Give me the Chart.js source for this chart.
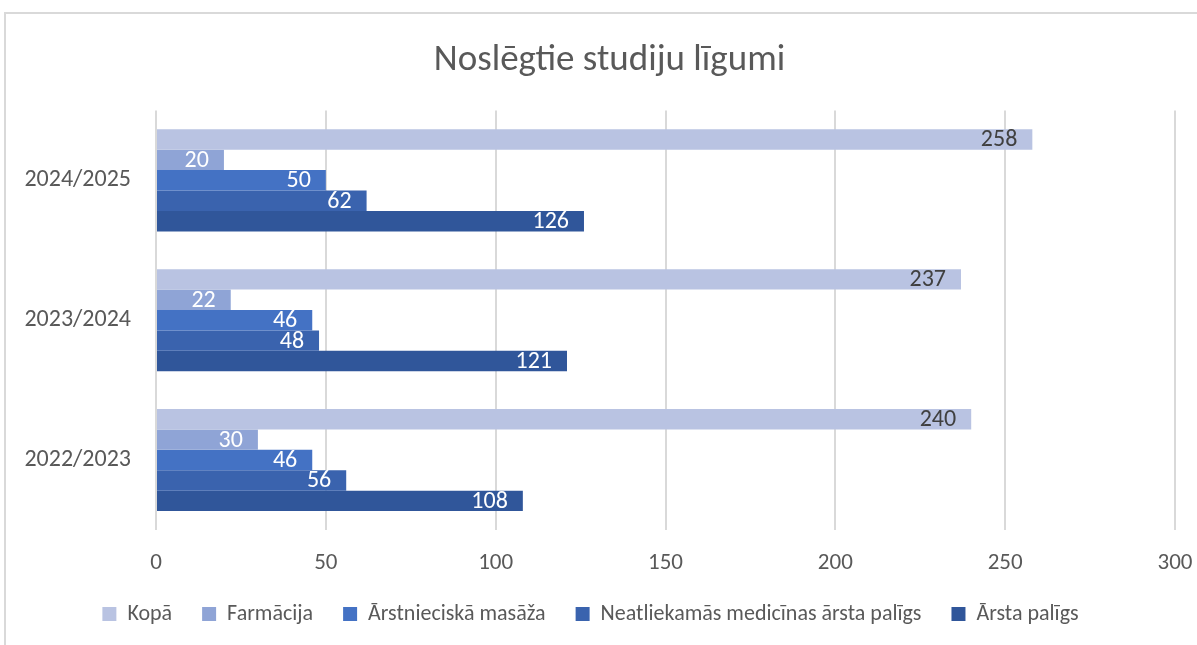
<!DOCTYPE html>
<html>
<head>
<meta charset="utf-8">
<script src="https://cdn.jsdelivr.net/npm/chart.js@4"></script>
<style>
  html, body { margin: 0; padding: 0; background: #fff; overflow: hidden; }
  #wrap {
    position: absolute; left: 4px; top: 12px;
    width: 1200px; height: 640px;
    border-left: 2px solid #d9d9d9; border-top: 2px solid #d9d9d9;
  }
</style>
</head>
<body>
<div id="wrap"><canvas id="studijuCanvas" width="1191" height="631"></canvas></div>
<script>
const years = ["2024/2025", "2023/2024", "2022/2023"];
const seriesNames = ["Kopā", "Farmācija", "Ārstnieciskā masāža", "Neatliekamās medicīnas ārsta palīgs", "Ārsta palīgs"];
const kopa = [258, 237, 240];
const farmacija = [20, 22, 30];
const masaza = [50, 46, 46];
const neatliekamas = [62, 48, 56];
const arstaPaligs = [126, 121, 108];
const xTicks = [0, 50, 100, 150, 200, 250, 300];

const seriesColors = ['#b9c3e2', '#8fa4d6', '#4472c4', '#3a63ae', '#30569a'];
const labelColors = ['#404040', '#fff', '#fff', '#fff', '#fff'];
const fontFamily = "Carlito, Calibri, Lato, 'Open Sans', sans-serif";

// draws the value at the inner end of each bar (no datalabels plugin available offline)
const valueLabels = {
    id: 'valueLabels',
    afterLayout(chart) {
        // the original chart was wider than the crop, so its title sits a bit right of centre
        if (chart.titleBlock) chart.titleBlock.left += 38;
        // x axis box is squeezed to keep the legend low; let its labels overflow the clip
        chart.scales.x.bottom += 25;
    },
    afterDatasetsDraw(chart) {
        const ctx = chart.ctx;
        ctx.save();
        ctx.font = "24px " + fontFamily;
        ctx.textAlign = 'right';
        ctx.textBaseline = 'middle';
        chart.data.datasets.forEach(function (ds, i) {
            chart.getDatasetMeta(i).data.forEach(function (bar, j) {
                ctx.fillStyle = labelColors[i];
                ctx.fillText(ds.data[j], bar.x - 15, bar.y + 1);
            });
        });
        ctx.restore();
    }
};

let ctx = document.getElementById('studijuCanvas').getContext('2d');
let studijuChart = new Chart(ctx, {
    type: 'bar',
    data: {
        labels: years,
        datasets: [kopa, farmacija, masaza, neatliekamas, arstaPaligs].map(function (d, i) {
            return {
                label: seriesNames[i],
                data: d,
                backgroundColor: seriesColors[i],
                borderWidth: 0,
                barPercentage: 1,
                categoryPercentage: 0.73
            };
        })
    },
    plugins: [valueLabels],
    options: {
        indexAxis: 'y',
        responsive: false,
        animation: false,
        layout: {
            padding: { left: 0, right: 22, top: 10, bottom: 10 }
        },
        plugins: {
            title: {
                display: true,
                text: 'Noslēgtie studiju līgumi',
                color: '#595959',
                font: { family: fontFamily, size: 37, weight: 'normal' },
                padding: { top: 15, bottom: 27 }
            },
            legend: {
                position: 'bottom',
                labels: {
                    color: '#595959',
                    font: { family: fontFamily, size: 22 },
                    boxWidth: 14,
                    boxHeight: 14,
                    padding: 30
                }
            },
            tooltip: { enabled: false }
        },
        scales: {
            x: {
                min: 0,
                max: 300,
                afterBuildTicks: function (scale) {
                    scale.ticks = xTicks.map(function (v) { return { value: v }; });
                },
                afterFit: function (scale) {
                    scale.height = 43;
                    scale.paddingRight = 0;
                },
                grid: { color: '#d9d9d9', lineWidth: 2, drawTicks: false },
                border: { display: false },
                ticks: {
                    color: '#595959',
                    font: { family: fontFamily, size: 23 },
                    padding: 19
                }
            },
            y: {
                afterFit: function (scale) { scale.width = 150; },
                grid: { display: false },
                border: { display: false },
                ticks: {
                    color: '#595959',
                    font: { family: fontFamily, size: 24 },
                    padding: 17
                }
            }
        }
    }
});
</script>
</body>
</html>
